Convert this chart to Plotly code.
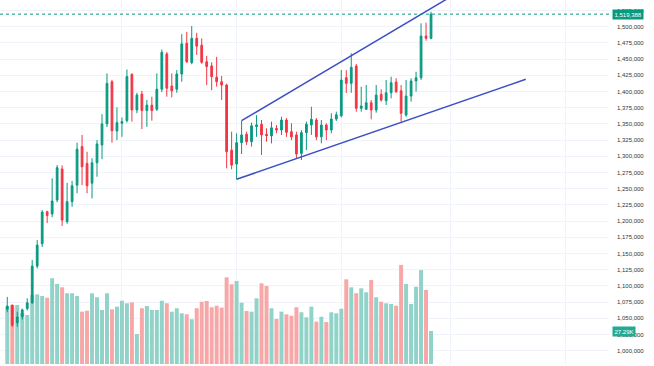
import plotly.graph_objects as go

# ---- data ----
opens = [1064000, 1070000, 1043000, 1052500, 1065000, 1074000, 1130500, 1165000, 1214500, 1211000,
         1232500, 1280500, 1199000, 1230000, 1255500, 1315000, 1289000, 1258500, 1290000, 1317500,
         1350000, 1415000, 1339000, 1351000, 1355000, 1426500, 1371500, 1396000, 1370500, 1379000,
         1372500, 1403500, 1458000, 1408500, 1403500, 1427000, 1474500, 1444500, 1482000, 1471500,
         1446000, 1439500, 1422000, 1415000, 1410000, 1309500, 1288000, 1321000, 1334000, 1322500,
         1346000, 1349500, 1334000, 1331500, 1343000, 1340500, 1356000, 1338000, 1333000, 1304500,
         1336500, 1348300, 1356000, 1330000, 1348300, 1340600, 1357500, 1362600, 1421300, 1412600,
         1439300, 1374000, 1372500, 1382700, 1371500, 1395700, 1385800, 1398100, 1414700, 1401200,
         1363700, 1393000, 1416200, 1421300, 1485600, 1482100]
highs = [1083000, 1071500, 1060000, 1065000, 1081000, 1140000, 1171000, 1217000, 1216000, 1266000,
         1286500, 1286000, 1259000, 1262000, 1321000, 1333000, 1307000, 1297000, 1325000, 1365000,
         1428000, 1418000, 1375500, 1360000, 1434000, 1428000, 1398000, 1401000, 1387000, 1392000,
         1428000, 1465000, 1461000, 1428000, 1433000, 1488500, 1492000, 1501000, 1490500, 1482000,
         1455000, 1445000, 1453500, 1424000, 1412000, 1338000, 1335500, 1355000, 1338000, 1352000,
         1363500, 1356000, 1343200, 1353500, 1348300, 1361000, 1359000, 1351000, 1338000, 1340500,
         1353500, 1376500, 1359000, 1356000, 1351000, 1366400, 1369000, 1433000, 1433000, 1459000,
         1442400, 1407400, 1410000, 1386900, 1410000, 1403400, 1417700, 1422800, 1420400, 1410000,
         1417700, 1420400, 1430500, 1505200, 1506200, 1523000]
lows = [1059500, 1036500, 1037000, 1048000, 1062000, 1072000, 1127000, 1160000, 1197000, 1206000,
        1229000, 1192500, 1196000, 1222000, 1243000, 1255500, 1243000, 1235000, 1268500, 1295500,
        1345000, 1321000, 1325000, 1330000, 1352000, 1353500, 1366500, 1342000, 1345500, 1355000,
        1370000, 1399000, 1392000, 1391000, 1398000, 1415000, 1444000, 1442000, 1456500, 1443000,
        1410000, 1402000, 1407500, 1387000, 1281500, 1280000, 1264500, 1303500, 1317500, 1315000,
        1330000, 1302000, 1322500, 1320000, 1335500, 1333000, 1330000, 1325000, 1297000, 1294300,
        1309700, 1333000, 1325000, 1320000, 1325000, 1335500, 1354500, 1360000, 1397700, 1398000,
        1368800, 1368800, 1371500, 1357100, 1367300, 1384300, 1379200, 1389500, 1397700, 1353400,
        1361100, 1384300, 1399700, 1417700, 1478400, 1480500]
closes = [1069000, 1039500, 1052000, 1063000, 1074000, 1130500, 1163000, 1214000, 1208500, 1231000,
          1282500, 1201500, 1230000, 1254500, 1311000, 1284000, 1254500, 1290000, 1319000, 1350000,
          1412500, 1339500, 1352000, 1353500, 1423000, 1371500, 1394500, 1370500, 1379000, 1370500,
          1403500, 1460500, 1405000, 1401000, 1427000, 1473500, 1446000, 1482000, 1470000, 1445000,
          1438500, 1423000, 1415000, 1410000, 1307000, 1286500, 1321000, 1333000, 1322500, 1347000,
          1348500, 1333000, 1331800, 1344000, 1340500, 1356000, 1337000, 1330000, 1303500, 1336500,
          1349500, 1357000, 1330000, 1348300, 1340600, 1357500, 1364000, 1417700, 1412600, 1437300,
          1374000, 1377600, 1382700, 1371500, 1394600, 1386900, 1398100, 1413600, 1399700, 1366400,
          1393000, 1416200, 1421300, 1485600, 1482100, 1519388]
volumes_k = [47.4, 48.8, 48.8, 42.2, 40.5, 57.1, 57.6, 56.2, 54.8, 70.9,
             66.2, 63.4, 58.5, 58.5, 56.2, 43.3, 44.1, 58.5, 55.2, 44.7,
             58.5, 45.2, 47.4, 52.3, 50.2, 51.0, 24.8, 46.1, 48.0, 44.7,
             44.7, 52.3, 50.2, 43.3, 46.1, 41.9, 41.1, 37.0, 46.1, 51.5,
             52.1, 46.9, 48.2, 46.6, 71.7, 65.9, 68.6, 50.7, 43.8, 43.3,
             54.3, 66.7, 64.5, 46.1, 37.2, 43.3, 41.1, 39.9, 46.9, 42.8,
             38.6, 47.4, 35.0, 39.1, 34.7, 42.8, 41.9, 45.7, 70.0, 63.4,
             58.5, 62.6, 59.3, 69.5, 55.2, 51.5, 50.2, 49.6, 48.2, 81.9,
             66.2, 49.6, 63.9, 77.7, 61.2, 27.29]
# 1 = volume bar drawn in the "up" colour, 0 = "down" colour (as seen in the picture)
volume_up = [1, 0, 1, 1, 1, 1, 1, 1, 0, 1,
             1, 0, 1, 1, 1, 0, 0, 1, 1, 1,
             1, 0, 1, 1, 1, 0, 1, 0, 1, 1,
             1, 1, 0, 1, 1, 1, 0, 1, 0, 0,
             0, 0, 0, 0, 0, 0, 1, 1, 0, 1,
             1, 0, 0, 1, 0, 1, 0, 0, 0, 1,
             1, 1, 0, 1, 0, 1, 1, 1, 0, 1,
             0, 1, 1, 0, 1, 0, 1, 1, 0, 0,
             1, 1, 1, 1, 0, 1]
price_ticks = list(range(1000000, 1525001, 25000))
upper_line_idx = [47, 90]
upper_line_price = [1355000, 1551000]
lower_line_idx = [46, 104]
lower_line_price = [1264500, 1418800]
vgrid_idx = [23, 46, 67, 89, 112]
last_price_label = "1,519,388"
last_volume_label = "27.29K"

UP = "#089981"
DOWN = "#f23645"
UP_VOL = "#92d3c9"
DOWN_VOL = "#f7a7a7"
LINE = "#3b4fc6"
GRID = "#f0f3fa"

idx = list(range(len(opens)))
vol_colors = [UP_VOL if u else DOWN_VOL for u in volume_up]

fig = go.Figure()
fig.add_trace(go.Bar(x=idx, y=volumes_k, marker=dict(color=vol_colors, line=dict(width=0)),
                     width=0.8, xaxis="x", yaxis="y", hoverinfo="skip"))
fig.add_trace(go.Candlestick(
    x=idx, open=opens, high=highs, low=lows, close=closes, xaxis="x", yaxis="y2",
    increasing=dict(line=dict(color=UP, width=1), fillcolor=UP),
    decreasing=dict(line=dict(color=DOWN, width=1), fillcolor=DOWN),
    whiskerwidth=0))
fig.add_trace(go.Scatter(x=upper_line_idx, y=upper_line_price, mode="lines", xaxis="x", yaxis="y2",
                         line=dict(color=LINE, width=1.5), hoverinfo="skip"))
fig.add_trace(go.Scatter(x=lower_line_idx, y=lower_line_price, mode="lines", xaxis="x", yaxis="y2",
                         line=dict(color=LINE, width=1.5), hoverinfo="skip"))

fig.add_shape(type="line", xref="paper", x0=0, x1=1, yref="y2", y0=closes[-1], y1=closes[-1],
              line=dict(color=UP, width=1, dash="dot"))

fig.add_annotation(x=1, xref="paper", xanchor="left", y=closes[-1], yref="y2", yanchor="middle",
                   text=last_price_label, showarrow=False, bgcolor=UP, borderpad=1.5, xshift=3,
                   font=dict(family="Liberation Sans, Arial", size=6, color="white"))
fig.add_annotation(x=1, xref="paper", xanchor="left", y=volumes_k[-1], yref="y", yanchor="middle",
                   text=last_volume_label, showarrow=False, bgcolor="#22ab94", borderpad=1.5, xshift=3,
                   font=dict(family="Liberation Sans, Arial", size=6, color="white"))

fig.update_layout(
    width=654, height=366,
    margin=dict(l=0, r=45, t=0, b=2),
    showlegend=False,
    plot_bgcolor="white", paper_bgcolor="white",
    boxgap=0.5,
    xaxis=dict(range=[-1.46, 120.7], rangeslider=dict(visible=False), showticklabels=False,
               tickvals=vgrid_idx, showgrid=True, gridcolor=GRID, gridwidth=1,
               zeroline=False, showline=False, ticks=""),
    yaxis=dict(range=[0, 301], visible=False, showgrid=False),
    yaxis2=dict(overlaying="y", side="right", anchor="x", range=[979500, 1541200],
                tickvals=price_ticks, ticktext=[f"{v:,}" for v in price_ticks],
                showgrid=True, gridcolor=GRID, gridwidth=1, zeroline=False, showline=False,
                ticks="", ticklabelstandoff=7,
                tickfont=dict(family="Liberation Sans, Arial", size=6, color="#333333")),
)

fig.write_html("out.html", config={"displayModeBar": False},
               post_script="document.body.style.margin='0px';")
